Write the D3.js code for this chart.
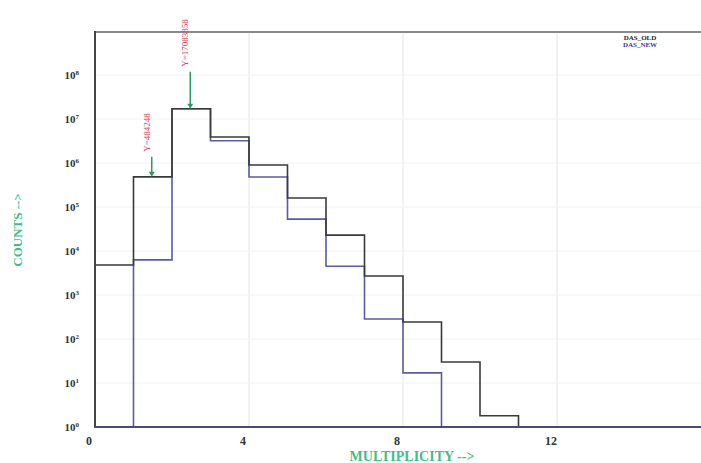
<!DOCTYPE html>
<html><head><meta charset="utf-8">
<script src="https://cdn.jsdelivr.net/npm/d3@7"></script>
<style>html,body{margin:0;padding:0;background:#fff;}svg{display:block;}</style>
</head><body>
<script>
// ---- data ----
const bins = [0,1,2,3,4,5,6,7,8,9,10];
const oldCounts = [4800, 484248, 17083858, 3900000, 900000, 160000, 23000, 2700, 243, 30, 1.8];
const newCounts = [0, 6300, 17083858, 3200000, 480000, 53000, 4500, 285, 17, 0, 0];
const xTicks = [0, 4, 8, 12];
const yTickExps = [0,1,2,3,4,5,6,7,8];
const annotations = [
  {bin: 1.5, value: 484248, label: "Y=484248"},
  {bin: 2.5, value: 17083858, label: "Y=17083858"}
];
const legendLabels = ["DAS_OLD", "DAS_NEW"];

const W = 701, H = 463;
const svg = d3.select("body").append("svg").attr("width", W).attr("height", H);
const x = d3.scaleLinear().domain([0, 16]).range([95, 711]);
const y = d3.scaleLog().domain([1, 1e9]).range([427, 31]);
const yv = v => y(Math.max(v, 1));

// grid
svg.append("g").selectAll("line").data(xTicks.slice(1)).join("line")
  .attr("x1", d => x(d)).attr("x2", d => x(d)).attr("y1", 32).attr("y2", 427)
  .attr("stroke", "#e4e4ec").attr("stroke-width", 1);
svg.append("g").selectAll("line").data(yTickExps.slice(1)).join("line")
  .attr("x1", 96).attr("x2", W).attr("y1", d => y(Math.pow(10, d))).attr("y2", d => y(Math.pow(10, d)))
  .attr("stroke", "#f2f2f4").attr("stroke-width", 1);

// histogram step paths
function stepPoints(vals) {
  let last = vals.length - 1;
  while (last >= 0 && vals[last] <= 0) last--;
  const pts = [[bins[0], 0]];
  for (let i = 0; i <= last; i++) pts.push([bins[i], vals[i]]);
  pts.push([bins[last] + 1, 0]);
  return pts;
}
const line = d3.line().x(d => x(d[0])).y(d => yv(d[1])).curve(d3.curveStepAfter);
svg.append("path").attr("d", line(stepPoints(newCounts)))
  .attr("fill", "none").attr("stroke", "#5a5aa8").attr("stroke-width", 1.6);
svg.append("path").attr("d", line(stepPoints(oldCounts)))
  .attr("fill", "none").attr("stroke", "#3a3a3a").attr("stroke-width", 1.6);

// frame
svg.append("line").attr("x1", 95).attr("x2", W).attr("y1", 32).attr("y2", 32).attr("stroke", "#8a8a8a").attr("stroke-width", 2);
svg.append("line").attr("x1", 95).attr("x2", 95).attr("y1", 31).attr("y2", 428).attr("stroke", "#444").attr("stroke-width", 2);
svg.append("line").attr("x1", 94).attr("x2", W).attr("y1", 427).attr("y2", 427).attr("stroke", "#4a4a78").attr("stroke-width", 2);

// y tick labels
const yl = svg.append("g").attr("font-family", "'Liberation Serif', 'DejaVu Serif', serif").attr("font-weight", "bold").attr("fill", "#333");
yTickExps.forEach(e => {
  const t = yl.append("text").attr("x", 79).attr("y", y(Math.pow(10, e)) + 4).attr("text-anchor", "end").attr("font-size", 11);
  t.append("tspan").text("10");
  t.append("tspan").attr("dy", -4).attr("font-size", 7).text(e);
});
// x tick labels
svg.append("g").selectAll("text").data(xTicks).join("text")
  .attr("x", d => x(d) - 6).attr("y", 445).attr("text-anchor", "middle")
  .attr("font-family", "'Liberation Serif', serif").attr("font-weight", "bold").attr("font-size", 12).attr("fill", "#333")
  .text(d => d);

// axis titles
svg.append("text").attr("transform", "translate(22,230) rotate(-90)").attr("text-anchor", "middle")
  .attr("font-family", "'Liberation Serif', serif").attr("font-weight", "bold").attr("font-size", 13).attr("fill", "#3fbf86")
  .text("COUNTS -->");
svg.append("text").attr("x", 412).attr("y", 461).attr("text-anchor", "middle")
  .attr("font-family", "'Liberation Serif', serif").attr("font-weight", "bold").attr("font-size", 14).attr("fill", "#3fbf86")
  .text("MULTIPLICITY -->");

// annotations
const ag = svg.append("g");
annotations.forEach((a, i) => {
  const px = x(a.bin) - 1, py = yv(a.value);
  const len = i === 0 ? 20 : 37;
  ag.append("line").attr("x1", px).attr("x2", px).attr("y1", py - len).attr("y2", py - 3)
    .attr("stroke", "#2a9a66").attr("stroke-width", 1.5);
  ag.append("path").attr("d", `M${px - 3},${py - 5} L${px + 3},${py - 5} L${px},${py} Z`).attr("fill", "#2a9a66");
  ag.append("text").attr("transform", `translate(${px - 2},${py - len - 5}) rotate(-90)`)
    .attr("text-anchor", "start").attr("font-family", "'Liberation Serif', serif").attr("font-size", 9)
    .attr("fill", "#d9455a").text(a.label);
});

// legend
svg.append("text").attr("x", 640).attr("y", 40).attr("text-anchor", "middle")
  .attr("font-family", "'Liberation Serif', serif").attr("font-weight", "bold").attr("font-size", 7).attr("fill", "#222").text(legendLabels[0]);
svg.append("text").attr("x", 640).attr("y", 47).attr("text-anchor", "middle")
  .attr("font-family", "'Liberation Serif', serif").attr("font-weight", "bold").attr("font-size", 7).attr("fill", "#3a3aa0").text(legendLabels[1]);
</script>
</body></html>
